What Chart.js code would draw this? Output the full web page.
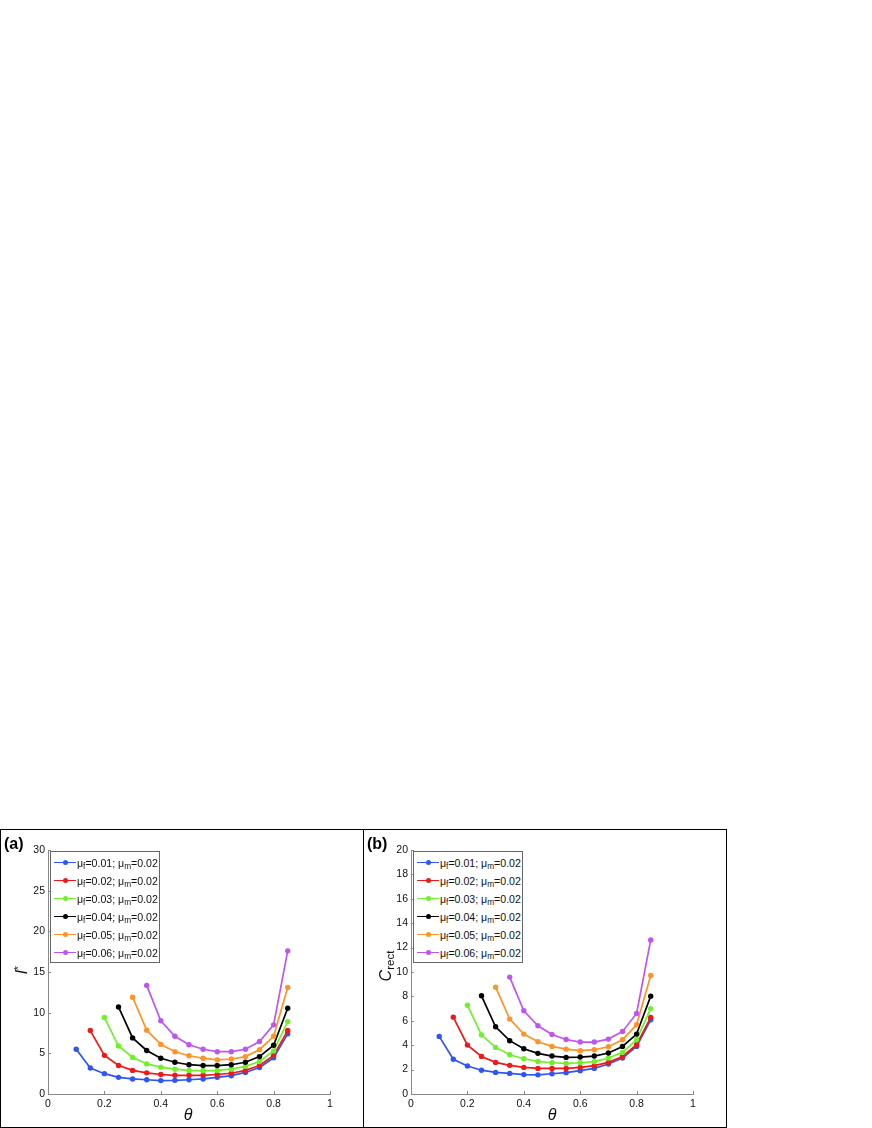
<!DOCTYPE html>
<html>
<head>
<meta charset="utf-8">
<script src="https://cdn.jsdelivr.net/npm/chart.js@4/dist/chart.umd.min.js"></script>
<style>
  html, body { margin:0; padding:0; background:#fff; }
  body { width:872px; height:1128px; position:relative; overflow:hidden; font-family:"Liberation Sans", Arial, sans-serif; }
  .panel { position:absolute; top:829px; height:299px; width:364px; box-sizing:border-box; border:1px solid #000; }
  canvas { position:absolute; }
  .plabel { position:absolute; font-weight:bold; font-size:16px; color:#000; }
  .xtitle { position:absolute; font-style:italic; font-size:16px; color:#111; transform:translate(-50%,-50%); }
  .ytitle { position:absolute; font-size:16px; color:#111; transform:translate(-50%,-50%) rotate(-90deg); white-space:nowrap; }
  .ytitle sup { font-size:0.7em; vertical-align:0.45em; line-height:0; }
  .ytitle sub { font-size:0.72em; vertical-align:-0.3em; line-height:0; }
  .legend { position:absolute; box-sizing:border-box; border:1.5px solid #666; background:#fff; }
  .row { position:absolute; left:0; height:14px; width:100%; }
  .row .ln { position:absolute; left:3px; width:22px; top:6.25px; height:1.6px; }
  .row .dot { position:absolute; left:11.5px; top:4.5px; width:5px; height:5px; border-radius:50%; }
  .row .tx { position:absolute; left:26px; top:0; line-height:14px; font-size:10.6px; color:#111; white-space:nowrap; }
  .row .tx sub { font-size:0.78em; vertical-align:-0.3em; line-height:0; }
</style>
</head>
<body>
<div class="panel" style="left:0px;"></div>
<div class="panel" style="left:363px;"></div>
<canvas id="ca" width="362" height="297" style="left:1px; top:830px;"></canvas>
<canvas id="cb" width="362" height="297" style="left:364px; top:830px;"></canvas>
<div class="plabel" style="left:4px; top:835px;">(a)</div>
<div class="plabel" style="left:367px; top:835px;">(b)</div>
<div class="xtitle" style="left:188px; top:1115px;">θ</div>
<div class="xtitle" style="left:552px; top:1115px;">θ</div>
<div class="ytitle" style="left:22px; top:970px;"><i>l</i><sup>*</sup></div>
<div class="ytitle" style="left:386px; top:966px;"><i>C</i><sub>rect</sub></div>
<div class="legend" id="lga" style="left:50px; top:851px; width:110px; height:112px;"></div>
<div class="legend" id="lgb" style="left:413px; top:851px; width:110px; height:112px;"></div>

<script>
// ---------------- data ----------------
const theta = [0.1,0.15,0.2,0.25,0.3,0.35,0.4,0.45,0.5,0.55,0.6,0.65,0.7,0.75,0.8,0.85];

const xTicks = [0,0.2,0.4,0.6,0.8,1];
const yTicksA = [0,5,10,15,20,25,30];
const yTicksB = [0,2,4,6,8,10,12,14,16,18,20];

const seriesNames = ["μf=0.01; μm=0.02","μf=0.02; μm=0.02","μf=0.03; μm=0.02","μf=0.04; μm=0.02","μf=0.05; μm=0.02","μf=0.06; μm=0.02"];
const muF = ["0.01","0.02","0.03","0.04","0.05","0.06"];
const muM = "0.02";

// panel (a): l*
const L_01 = [5.5,3.2,2.5,2.05,1.85,1.75,1.65,1.68,1.75,1.85,2.05,2.25,2.65,3.25,4.45,7.4];
const L_02 = [null,7.8,4.75,3.5,2.9,2.6,2.4,2.3,2.3,2.3,2.4,2.55,2.9,3.5,4.75,7.8];
const L_03 = [null,null,9.4,5.9,4.5,3.7,3.3,3.05,2.9,2.85,2.9,3.05,3.4,4.0,5.3,8.9];
const L_04 = [null,null,null,10.7,6.9,5.35,4.4,3.9,3.6,3.5,3.5,3.6,3.9,4.6,6.0,10.55];
const L_05 = [null,null,null,null,11.9,7.85,6.1,5.2,4.7,4.4,4.2,4.3,4.6,5.45,7.1,13.1];
const L_06 = [null,null,null,null,null,13.35,9.0,7.1,6.05,5.5,5.2,5.2,5.5,6.45,8.5,17.6];

// panel (b): C_rect
const C_01 = [4.72,2.85,2.3,1.95,1.77,1.69,1.59,1.57,1.66,1.75,1.91,2.1,2.46,2.95,3.9,6.08];
const C_02 = [null,6.3,4.01,3.08,2.59,2.35,2.18,2.1,2.1,2.1,2.18,2.32,2.59,3.08,4.04,6.28];
const C_03 = [null,null,7.28,4.83,3.82,3.22,2.89,2.67,2.56,2.51,2.56,2.65,2.95,3.41,4.45,7.0];
const C_04 = [null,null,null,8.05,5.51,4.37,3.71,3.33,3.11,3.0,3.03,3.11,3.36,3.9,4.91,8.02];
const C_05 = [null,null,null,null,8.76,6.14,4.91,4.28,3.9,3.68,3.55,3.63,3.87,4.45,5.68,9.71];
const C_06 = [null,null,null,null,null,9.58,6.82,5.59,4.88,4.47,4.26,4.26,4.5,5.13,6.6,12.63];

const colors = ['#2f55f5','#f01818','#70f02a','#000000','#ff9326','#bf55f0'];

// ---------------- helpers ----------------
function pts(vals){
  const out = [];
  theta.forEach((t,i)=>{ if(vals[i]!==null) out.push({x:t, y:vals[i]}); });
  return out;
}

const inwardTicks = {
  id:'inwardTicks',
  afterDraw(chart){
    const ctx = chart.ctx, ca = chart.chartArea;
    const xs = chart.scales.x, ys = chart.scales.y;
    ctx.save();
    ctx.strokeStyle = '#888';
    ctx.lineWidth = 1;
    ctx.beginPath();
    xs.ticks.forEach(t=>{
      const px = Math.round(xs.getPixelForValue(t.value)) + 0.5;
      ctx.moveTo(px, ca.bottom); ctx.lineTo(px, ca.bottom - 3);
    });
    ys.ticks.forEach(t=>{
      const py = Math.round(ys.getPixelForValue(t.value)) + 0.5;
      ctx.moveTo(ca.left, py); ctx.lineTo(ca.left + 3, py);
    });
    ctx.stroke();
    ctx.restore();
  }
};

function makeChart(id, seriesList, yTicks){
  const ymax = yTicks[yTicks.length-1];
  const step = yTicks[1]-yTicks[0];
  return new Chart(document.getElementById(id), {
    type:'line',
    data:{
      datasets: seriesList.map((s,i)=>({
        label: seriesNames[i],
        data: pts(s),
        borderColor: colors[i],
        backgroundColor: colors[i],
        pointBackgroundColor: colors[i],
        pointBorderWidth: 0,
        pointRadius: 2.7,
        borderWidth: 1.7,
        tension: 0,
        fill: false,
        order: seriesList.length - i
      }))
    },
    options:{
      responsive:false,
      animation:false,
      devicePixelRatio:1,
      layout:{ padding:{ top:20, right:33, left:0, bottom:0 } },
      plugins:{ legend:{display:false}, tooltip:{enabled:false} },
      scales:{
        x:{
          type:'linear', min:0, max:1,
          afterBuildTicks(scale){ scale.ticks = xTicks.map(v=>({value:v})); },
          afterFit(scale){ scale.height = 33; },
          grid:{ display:false, drawTicks:false },
          border:{ display:true, color:'#888', width:1 },
          ticks:{ padding:4, color:'#111', font:{ family:'"Liberation Sans", Arial, sans-serif', size:10.5 },
                  maxRotation:0, autoSkip:false,
                  callback:(v)=>String(Number(v.toFixed(1))) }
        },
        y:{
          type:'linear', min:0, max:ymax,
          afterBuildTicks(scale){ scale.ticks = yTicks.map(v=>({value:v})); },
          afterFit(scale){ scale.width = 47; },
          grid:{ display:false, drawTicks:false },
          border:{ display:true, color:'#888', width:1 },
          ticks:{ padding:3, color:'#111', font:{ family:'"Liberation Sans", Arial, sans-serif', size:10.5 },
                  autoSkip:false, stepSize:step, callback:(v)=>String(v) }
        }
      }
    },
    plugins:[inwardTicks]
  });
}

function makeLegend(id){
  const el = document.getElementById(id);
  muF.forEach((f,i)=>{
    const row = document.createElement('div');
    row.className = 'row';
    row.style.top = (3.5 + 18*i) + 'px';
    row.innerHTML = '<span class="ln" style="background:'+colors[i]+'"></span>' +
                    '<span class="dot" style="background:'+colors[i]+'"></span>' +
                    '<span class="tx">μ<sub>f</sub>=' + f + '; μ<sub>m</sub>=' + muM + '</span>';
    el.appendChild(row);
  });
}

makeChart('ca', [L_01,L_02,L_03,L_04,L_05,L_06], yTicksA);
makeChart('cb', [C_01,C_02,C_03,C_04,C_05,C_06], yTicksB);
makeLegend('lga');
makeLegend('lgb');
</script>
</body>
</html>
